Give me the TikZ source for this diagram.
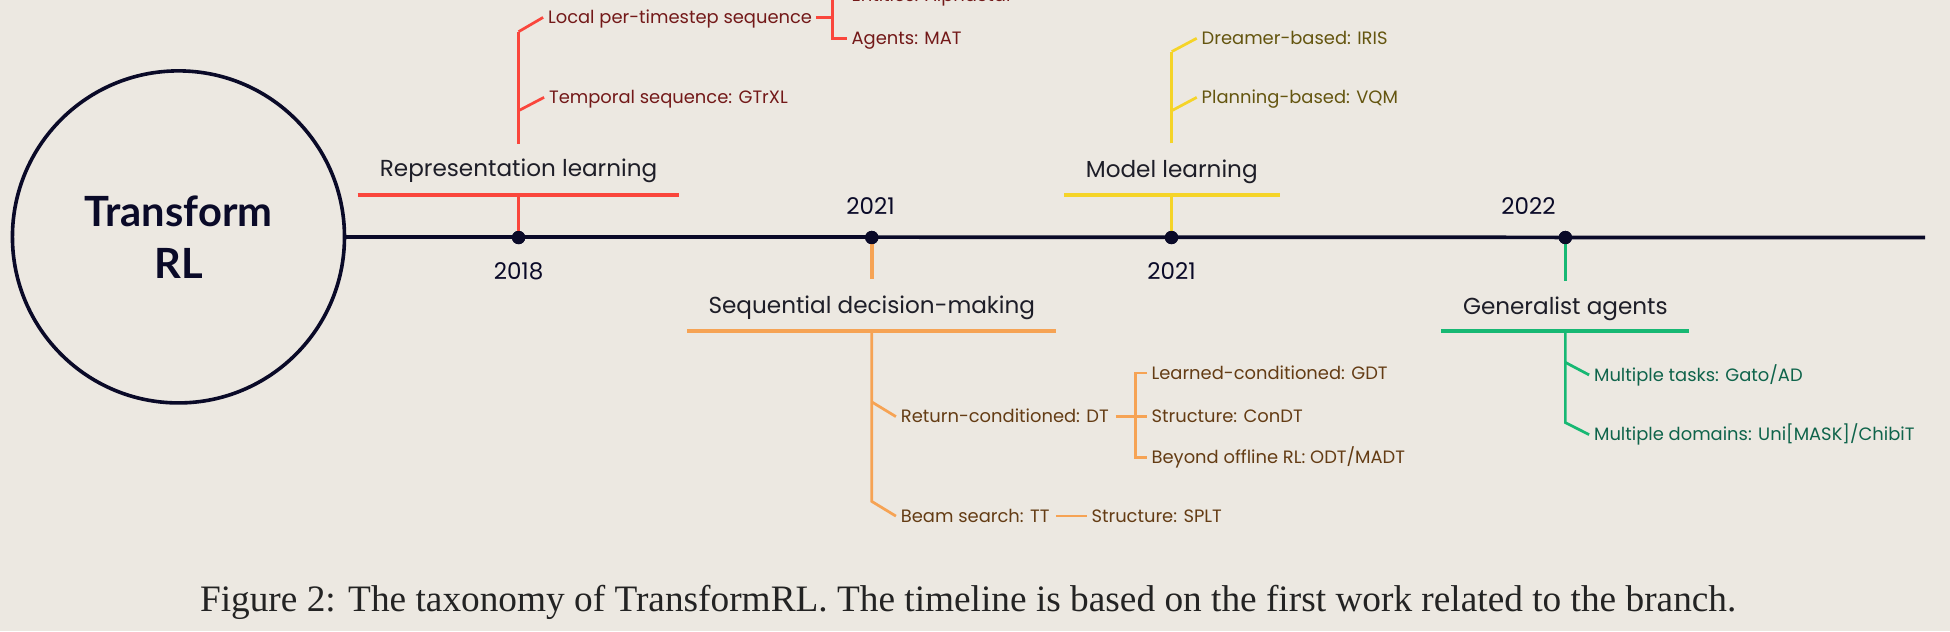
\documentclass[tikz,border=0pt]{standalone}
\usepackage{fontspec}
\setmainfont{Poppins}
\newfontfamily\titlefont{Lato}
\newfontfamily\capfont{Liberation Serif}
\definecolor{bg}{RGB}{236,232,225}
\definecolor{navy}{RGB}{10,10,40}
\definecolor{headtext}{RGB}{30,30,40}
\definecolor{cred}{RGB}{250,70,60}
\definecolor{corange}{RGB}{246,163,84}
\definecolor{cyellow}{RGB}{245,212,40}
\definecolor{cgreen}{RGB}{23,184,115}
\definecolor{tred}{RGB}{115,25,25}
\definecolor{torange}{RGB}{100,60,20}
\definecolor{tyellow}{RGB}{100,85,15}
\definecolor{tgreen}{RGB}{15,100,75}
\definecolor{captext}{RGB}{35,35,35}
\begin{document}
\begin{tikzpicture}[x=1pt,y=-1pt,
  every node/.style={inner sep=0pt, outer sep=0pt},
  sub/.style={anchor=west, font=\fontsize{14.4}{17}\selectfont, text height=10.1pt, text depth=0pt},
  head/.style={font=\fontsize{18.6}{22}\selectfont, text=headtext, text height=13pt, text depth=0pt},
  yr/.style={font=\fontsize{18.5}{21}\selectfont, text=navy, text height=12.9pt, text depth=0pt},
  dot/.style={circle, fill=navy, minimum size=10.7pt},
  tline/.style={draw=navy, line width=3pt},
  mainln/.style={line width=3.2pt},
  stemln/.style={line width=2.8pt},
  twig/.style={line width=2.2pt, line join=miter},
]
\fill[bg] (0,0) rectangle (1568,507.4);
\clip (0,0) rectangle (1568,507.4);

% root and timeline
\node[circle, draw=navy, line width=2.9pt, minimum size=267pt, align=center,
      font=\titlefont\bfseries\fontsize{33.5}{42}\selectfont, text=navy] (root) at (143.5,190.5) {Transform\\RL};
\coordinate (tlend) at (1548,191);
\draw[tline] (root.east) -- (tlend);
\node[dot] (d1) at (417,191) {};
\node[dot] (d2) at (701,191) {};
\node[dot] (d3) at (942,191) {};
\node[dot] (d4) at (1258.7,191) {};
\node[yr] (y1) at (417,218) {2018};
\node[yr] (y2) at (700,166) {2021};
\node[yr] (y3) at (942,218) {2021};
\node[yr] (y4) at (1229,166) {2022};

% ---------- Representation learning (red)
\coordinate (rlL) at (287.5,157);
\coordinate (rlR) at (546,157);
\draw[mainln,cred] (rlL) -- (rlR);
\draw[stemln,cred] (d1) -- (d1 |- rlL);
\node[head] (rl) at (417,135.5) {Representation learning};
\node[sub,text=tred] (lp) at (440.7,14) {Local per-timestep sequence};
\node[sub,text=tred] (tg) at (441.5,78.3) {Temporal sequence: GTrXL};
\node[sub,text=tred] (ent) at (684.8,-3.5) {Entities: AlphaStar};
\node[sub,text=tred] (mat) at (684.8,30.8) {Agents: MAT};
\coordinate (rlS) at (417,115.5);
\coordinate (rlT) at (417,25.5);
\coordinate (rlM) at (417,89);
\coordinate (lpJ) at (669.6,14);
\coordinate (lpS) at (656,14);
\draw[stemln,cred] (rlS) -- (rlT);
\draw[twig,cred] (rlT) -- ([xshift=-4pt]lp.west);
\draw[twig,cred] (rlM) -- ([xshift=-4pt]tg.west);
\draw[twig,cred] (lpS) -- (lpJ);
\draw[twig,cred] ([xshift=-4pt]ent.west) -| (lpJ) |- ([xshift=-4pt]mat.west);

% ---------- Sequential decision-making (orange)
\coordinate (sdT) at (701,224.6);
\coordinate (sdL) at (552.7,266.5);
\coordinate (sdR) at (849.1,266.5);
\coordinate (sdB) at (701,266.5);
\draw[stemln,corange] (d2) -- (sdT);
\draw[mainln,corange] (sdL) -- (sdR);
\node[head] (sd) at (701,245.5) {Sequential decision-making};
\node[sub,text=torange] (rc) at (724.4,335) {Return-conditioned: DT};
\node[sub,text=torange] (bs) at (724.4,415) {Beam search: TT};
\node[sub,text=torange] (sp) at (877.7,415) {Structure: SPLT};
\node[sub,text=torange] (lc) at (926,300) {Learned-conditioned: GDT};
\node[sub,text=torange] (sc) at (926,335) {Structure: ConDT};
\node[sub,text=torange] (bo) at (926,368) {Beyond offline RL: ODT/MADT};
\coordinate (rcJ0) at (701,323.2);
\coordinate (bsJ) at (701,403.2);
\coordinate (rcJ) at (912.8,335);
\coordinate (rcS) at (897.2,335);
\coordinate (bsS) at (849.2,415);
\draw[twig,corange] (sdB) -- (bsJ) -- ([xshift=-4pt]bs.west);
\draw[twig,corange] (rcJ0) -- ([xshift=-4pt]rc.west);
\draw[twig,corange] (rcS) -- ([xshift=-4pt]sc.west);
\draw[twig,corange] ([xshift=-4pt]lc.west) -| (rcJ) |- ([xshift=-4pt]bo.west);
\draw[twig,corange] (bsS) -- ([xshift=-4pt]sp.west);

% ---------- Model learning (yellow)
\coordinate (mlL) at (855.6,156.5);
\coordinate (mlR) at (1029.3,156.5);
\draw[mainln,cyellow] (mlL) -- (mlR);
\draw[stemln,cyellow] (d3) -- (d3 |- mlL);
\node[head] (ml) at (942.2,136) {Model learning};
\node[sub,text=tyellow] (dr) at (966.3,30.8) {Dreamer-based: IRIS};
\node[sub,text=tyellow] (pl) at (966.3,78.3) {Planning-based: VQM};
\coordinate (mlS) at (942.2,115.3);
\coordinate (mlT) at (942.2,41.5);
\coordinate (mlM) at (942.2,89);
\draw[stemln,cyellow] (mlS) -- (mlT);
\draw[twig,cyellow] (mlT) -- ([xshift=-4pt]dr.west);
\draw[twig,cyellow] (mlM) -- ([xshift=-4pt]pl.west);

% ---------- Generalist agents (green)
\coordinate (gaT) at (1258.7,225.7);
\coordinate (gaL) at (1158.7,266.5);
\coordinate (gaR) at (1358.3,266.5);
\coordinate (gaB) at (1258.7,266.5);
\draw[stemln,cgreen] (d4) -- (gaT);
\draw[mainln,cgreen] (gaL) -- (gaR);
\node[head] (ga) at (1258.7,246.5) {Generalist agents};
\node[sub,text=tgreen] (mt) at (1281.8,301.5) {Multiple tasks: Gato/AD};
\node[sub,text=tgreen] (md) at (1281.8,349.5) {Multiple domains: Uni[MASK]/ChibiT};
\coordinate (gaJ1) at (1258.7,291.4);
\coordinate (gaJ2) at (1258.7,339.8);
\draw[twig,cgreen] (gaB) -- (gaJ2) -- ([xshift=-4pt]md.west);
\draw[twig,cgreen] (gaJ1) -- ([xshift=-4pt]mt.west);

% redraw dots on top
\node[dot] at (d1) {};
\node[dot] at (d2) {};
\node[dot] at (d3) {};
\node[dot] at (d4) {};

% caption
\node[font=\capfont\fontsize{30}{34}\selectfont, text=captext, text height=19.8pt, text depth=0pt] (cap) at (778.5,482)
  {Figure 2: The taxonomy of TransformRL. The timeline is based on the first work related to the branch.};
\end{tikzpicture}
\end{document}
